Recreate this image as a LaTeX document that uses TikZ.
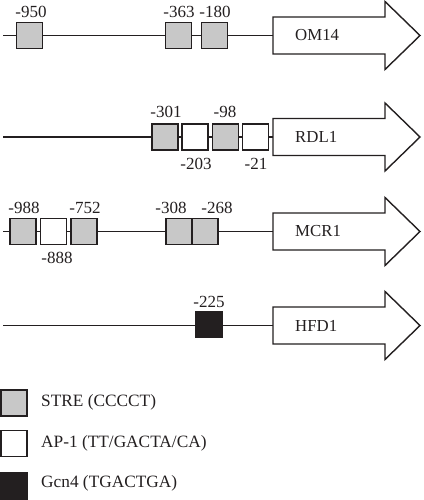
\documentclass[tikz,border=0pt]{standalone}
\usepackage{fontspec}
\setmainfont{Liberation Serif}
\definecolor{linec}{HTML}{231F20}
\definecolor{streg}{HTML}{C8C8C8}
\definecolor{gcnb}{HTML}{231F20}
\newcommand{\GeneArrow}[3]{%
  \draw[genearr] (273,#1-18.5) -- (385,#1-18.5) -- (385,#1-34) -- (420,#1)
    -- (385,#1+34) -- (385,#1+18.5) -- (273,#1+18.5) -- cycle;
  \coordinate (#2) at (273,#1);
  \node[genelbl, anchor=west] (#2t) at (295,#1) {#3};
}
\begin{document}
\begin{tikzpicture}[x=1pt,y=-1pt,
  box/.style={draw=linec, line width=1.3pt, minimum size=26pt, inner sep=0pt, outer sep=0pt},
  stre/.style={box, fill=streg},
  apone/.style={box, fill=white},
  gcn/.style={box, fill=gcnb},
  dna/.style={draw=linec, line width=1.3pt},
  genearr/.style={draw=linec, line width=1.4pt, fill=white, line join=miter},
  lbl/.style={font=\fontsize{17}{19}\selectfont, inner sep=0pt, text=linec},
  genelbl/.style={font=\fontsize{16.8}{19}\selectfont, inner sep=0pt, text=linec},
  legtxt/.style={font=\fontsize{17.3}{19}\selectfont, inner sep=0pt, text=linec, anchor=west}]
\useasboundingbox (0,0) rectangle (423,500);

% ---------- Row 1: OM14 ----------
\GeneArrow{35.5}{g1}{OM14}
\coordinate (s1) at (3,35.5);
\draw[dna] (s1) -- (g1);
\node[stre] (a1) at (29.5,35.5) {};
\node[stre] (a2) at (178.5,35.5) {};
\node[stre] (a3) at (214.5,35.5) {};
\node[lbl] (t950) at (31,12) {-950};
\node[lbl] (t363) at (179,12) {-363};
\node[lbl] (t180) at (215,12) {-180};

% ---------- Row 2: RDL1 ----------
\GeneArrow{137}{g2}{RDL1}
\coordinate (s2) at (3,137);
\draw[dna] (s2) -- (g2);
\node[stre]  (b1) at (165,137) {};
\node[apone] (b2) at (195,137) {};
\node[stre]  (b3) at (225.5,137) {};
\node[apone] (b4) at (255.5,137) {};
\node[lbl] (t301) at (166,112) {-301};
\node[lbl] (t98)  at (225,112) {-98};
\node[lbl] (t203) at (196,164) {-203};
\node[lbl] (t21)  at (256,164) {-21};

% ---------- Row 3: MCR1 ----------
\GeneArrow{231.5}{g3}{MCR1}
\coordinate (s3) at (3,231.5);
\draw[dna] (s3) -- (g3);
\node[stre]  (c1) at (23,231.5) {};
\node[apone] (c2) at (53.5,231.5) {};
\node[stre]  (c3) at (84,231.5) {};
\node[stre]  (c4) at (179,231.5) {};
\node[stre]  (c5) at (205,231.5) {};
\node[lbl] (t988) at (24,208) {-988};
\node[lbl] (t752) at (85,208) {-752};
\node[lbl] (t888) at (57,258) {-888};
\node[lbl] (t308) at (171,208) {-308};
\node[lbl] (t268) at (217,208) {-268};

% ---------- Row 4: HFD1 ----------
\GeneArrow{325.5}{g4}{HFD1}
\coordinate (s4) at (3,325.5);
\draw[dna] (s4) -- (g4);
\node[gcn] (d1) at (209,324.5) {};
\node[lbl] (t225) at (209,302) {-225};

% ---------- Legend ----------
\node[stre]  (l1) at (14,403) {};
\node[apone] (l2) at (14,443.5) {};
\node[gcn]   (l3) at (14,486) {};
\node[legtxt] (lt1) at (41,402) {STRE (CCCCT)};
\node[legtxt] (lt2) at (41,443) {AP-1 (TT/GACTA/CA)};
\node[legtxt] (lt3) at (41,483) {Gcn4 (TGACTGA)};
\end{tikzpicture}
\end{document}
